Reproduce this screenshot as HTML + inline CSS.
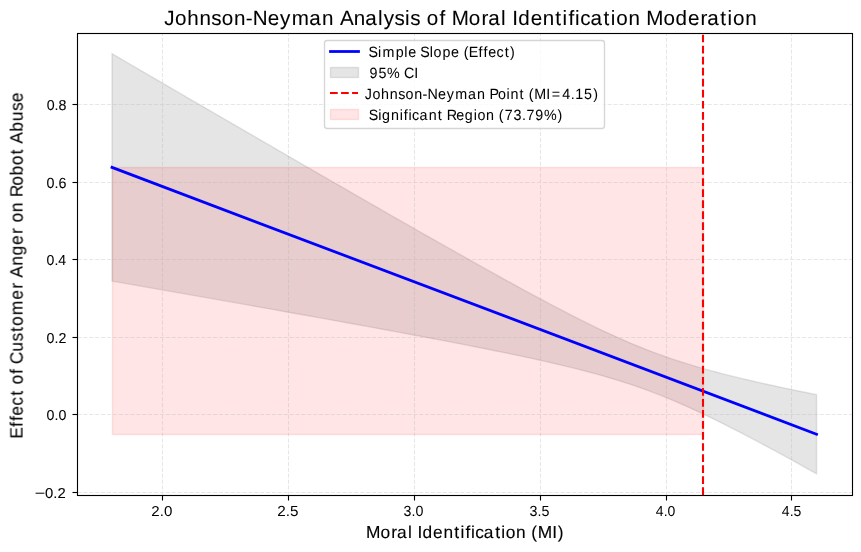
<!DOCTYPE html>
<html lang="en"><head><meta charset="utf-8"><title>Johnson-Neyman Analysis</title>
<style>html,body{margin:0;padding:0;background:#fff;}body{width:861px;height:552px;overflow:hidden;font-family:"Liberation Sans",sans-serif;}</style>
</head><body>
<svg width="861" height="552" viewBox="0 0 861 552" style="display:block;font-family:'Liberation Sans',sans-serif;text-rendering:geometricPrecision">
<rect x="0" y="0" width="861" height="552" fill="#ffffff"/>
<path d="M112.01 53.72 L119.12 57.87 L126.24 62.01 L133.35 66.16 L140.47 70.3 L147.59 74.44 L154.7 78.58 L161.82 82.72 L168.94 86.86 L176.05 91 L183.17 95.14 L190.29 99.28 L197.4 103.42 L204.52 107.55 L211.64 111.69 L218.75 115.82 L225.87 119.95 L232.99 124.08 L240.1 128.21 L247.22 132.34 L254.34 136.47 L261.45 140.59 L268.57 144.72 L275.69 148.84 L282.8 152.96 L289.92 157.08 L297.04 161.2 L304.15 165.31 L311.27 169.43 L318.39 173.54 L325.5 177.65 L332.62 181.75 L339.74 185.86 L346.85 189.96 L353.97 194.05 L361.09 198.15 L368.2 202.24 L375.32 206.33 L382.44 210.41 L389.55 214.49 L396.67 218.56 L403.79 222.63 L410.9 226.7 L418.02 230.76 L425.14 234.81 L432.25 238.86 L439.37 242.9 L446.49 246.93 L453.6 250.95 L460.72 254.96 L467.84 258.97 L474.95 262.96 L482.07 266.94 L489.19 270.91 L496.3 274.86 L503.42 278.8 L510.54 282.72 L517.65 286.62 L524.77 290.5 L531.89 294.35 L539 298.18 L546.12 301.98 L553.24 305.74 L560.35 309.47 L567.47 313.16 L574.59 316.8 L581.7 320.39 L588.82 323.92 L595.94 327.38 L603.05 330.78 L610.17 334.1 L617.29 337.34 L624.4 340.49 L631.52 343.54 L638.64 346.49 L645.75 349.34 L652.87 352.08 L659.98 354.71 L667.1 357.24 L674.22 359.66 L681.33 361.98 L688.45 364.21 L695.57 366.34 L702.68 368.4 L709.8 370.38 L716.92 372.29 L724.03 374.14 L731.15 375.93 L738.27 377.67 L745.38 379.37 L752.5 381.03 L759.62 382.65 L766.73 384.23 L773.85 385.79 L780.97 387.32 L788.08 388.83 L795.2 390.32 L802.32 391.78 L809.43 393.23 L816.55 394.67 L816.55 473.72 L809.43 469.77 L802.32 465.83 L795.2 461.9 L788.08 458 L780.97 454.12 L773.85 450.26 L766.73 446.43 L759.62 442.62 L752.5 438.85 L745.38 435.12 L738.27 431.43 L731.15 427.78 L724.03 424.18 L716.92 420.64 L709.8 417.16 L702.68 413.75 L695.57 410.42 L688.45 407.17 L681.33 404 L674.22 400.93 L667.1 397.97 L659.98 395.1 L652.87 392.34 L645.75 389.69 L638.64 387.15 L631.52 384.71 L624.4 382.38 L617.29 380.13 L610.17 377.98 L603.05 375.91 L595.94 373.92 L588.82 372 L581.7 370.14 L574.59 368.34 L567.47 366.59 L560.35 364.89 L553.24 363.22 L546.12 361.6 L539 360.01 L531.89 358.44 L524.77 356.91 L517.65 355.4 L510.54 353.91 L503.42 352.44 L496.3 350.99 L489.19 349.55 L482.07 348.13 L474.95 346.72 L467.84 345.32 L460.72 343.94 L453.6 342.56 L446.49 341.19 L439.37 339.83 L432.25 338.48 L425.14 337.14 L418.02 335.8 L410.9 334.47 L403.79 333.15 L396.67 331.83 L389.55 330.51 L382.44 329.2 L375.32 327.9 L368.2 326.59 L361.09 325.3 L353.97 324 L346.85 322.71 L339.74 321.42 L332.62 320.13 L325.5 318.85 L318.39 317.57 L311.27 316.29 L304.15 315.01 L297.04 313.74 L289.92 312.47 L282.8 311.2 L275.69 309.93 L268.57 308.66 L261.45 307.39 L254.34 306.13 L247.22 304.87 L240.1 303.61 L232.99 302.35 L225.87 301.09 L218.75 299.83 L211.64 298.57 L204.52 297.32 L197.4 296.06 L190.29 294.81 L183.17 293.56 L176.05 292.31 L168.94 291.06 L161.82 289.81 L154.7 288.56 L147.59 287.31 L140.47 286.06 L133.35 284.82 L126.24 283.57 L119.12 282.32 L112.01 281.08Z" fill="#7d7d7d" fill-opacity="0.2" stroke="#7d7d7d" stroke-opacity="0.2" stroke-width="1.39" stroke-linejoin="miter"/>
<rect x="112.5" y="167.5" width="591" height="267" fill="#ff0000" fill-opacity="0.1" stroke="#ff0000" stroke-opacity="0.1" stroke-width="1.39"/>
<path d="M162.5 495.5V33.5M288.5 495.5V33.5M414.5 495.5V33.5M540.5 495.5V33.5M666.5 495.5V33.5M791.5 495.5V33.5M77.5 492.5H852.5M77.5 414.5H852.5M77.5 337.5H852.5M77.5 259.5H852.5M77.5 182.5H852.5M77.5 104.5H852.5" fill="none" stroke="#b0b0b0" stroke-opacity="0.3" stroke-width="1.11" stroke-dasharray="4.11 1.78"/>
<path d="M162.5 495.5v5M288.5 495.5v5M414.5 495.5v5M540.5 495.5v5M666.5 495.5v5M791.5 495.5v5" fill="none" stroke="#000" stroke-width="1.11"/>
<rect x="72.5" y="491.94" width="5" height="1.11" fill="#000"/>
<rect x="72.5" y="413.94" width="5" height="1.11" fill="#000"/>
<rect x="72.5" y="336.94" width="5" height="1.11" fill="#000"/>
<rect x="72.5" y="258.94" width="5" height="1.11" fill="#000"/>
<rect x="72.5" y="181.94" width="5" height="1.11" fill="#000"/>
<rect x="72.5" y="103.94" width="5" height="1.11" fill="#000"/>
<path d="M112.01 167.4L816.55 434.19" fill="none" stroke="#0000ff" stroke-width="2.78" stroke-linecap="square"/>
<path d="M703 495V33" fill="none" stroke="#ff0000" stroke-width="2.08" stroke-dasharray="7.71 3.33"/>
<rect x="77.5" y="33.5" width="775.0" height="462.0" fill="none" stroke="#000" stroke-width="1.11"/>
<rect x="324.5" y="40.5" width="280" height="88" rx="2.78" fill="#ffffff" fill-opacity="0.8" stroke="#cccccc" stroke-opacity="0.8" stroke-width="1.39"/>
<path d="M330.5 51.5H358.5" fill="none" stroke="#0000ff" stroke-width="2.78" stroke-linecap="square"/>
<rect x="330.5" y="67.5" width="28" height="10" fill="#7d7d7d" fill-opacity="0.2" stroke="#7d7d7d" stroke-opacity="0.2" stroke-width="1.39"/>
<path d="M330 93H358" fill="none" stroke="#ff0000" stroke-width="2.08" stroke-dasharray="7.71 3.33"/>
<rect x="330.5" y="109.5" width="28" height="10" fill="#ff0000" fill-opacity="0.1" stroke="#ff0000" stroke-opacity="0.1" stroke-width="1.39"/>
<g id="labels" opacity="0.999">
<text transform="translate(0 24.70) scale(1.0600 1.0600)" font-size="19.444" fill="#000" stroke="#000" stroke-width="0.08" x="154.94 165.18 176.64 188.22 199.4 209.16 220.65 231.86 238.36 252.52 264.05 275.27 291.66 303.78 314.8 320.67 333.85 344.49 356.55 361.93 372.27 382.16 387.01 396.4 402.68 414.55 420.22 426.11 442.3 454.2 460.53 472.59 477.3 483.21 488.97 500.63 512.04 523.94 530.74 536.36 542.53 547.39 556.99 569.46 576.26 581.33 592.82 603.83 609.72 625.91 637.32 648.98 660.81 667.13 679.6 686.4 691.48 702.96">Johnson-Neyman Analysis of Moral Identification Moderation</text>
<text transform="translate(0 537.67) scale(1.0400 1.0400)" font-size="16.667" fill="#000" stroke="#000" stroke-width="0.12" x="351.82 365.95 376.32 381.69 392.28 396.33 401.37 406.28 416.38 426.4 436.88 442.77 447.51 452.86 456.86 465.23 476.18 482.07 486.26 496.23 505.95 510.82 516.96 530.93 536.35">Moral Identification (MI)</text>
<text transform="translate(22.75 0) rotate(-90) scale(1.0400 1.0750)" font-size="16.667" fill="#000" stroke="#000" stroke-width="0.1" x="-421.75 -410.36 -404.72 -399.54 -389.96 -380.37 -374.88 -369.69 -359.4 -354.45 -350.11 -338.07 -328.22 -319.07 -313.44 -303.06 -288 -277.59 -271.75 -266.91 -255.4 -245.46 -235.36 -224.94 -219.11 -213.92 -203.95 -194.23 -189.49 -178.58 -168.56 -158.75 -148.4 -142.91 -138.06 -126.49 -116.56 -106.7 -98.1">Effect of Customer Anger on Robot Abuse</text>
<text transform="translate(0 56.52) scale(1.0300 1.0700)" font-size="13.889" fill="#000" stroke="#000" stroke-width="0.04" x="357.89 367.07 371.29 384.11 392.56 396.3 404.25 408.13 417.32 420.98 429.5 437.93 445.87 450.13 455.01 464.63 469.49 473.97 481.95 489.99 495.27">Simple Slope (Effect)</text>
<text transform="translate(0 77.50) scale(1.0300 1.0700)" font-size="13.889" fill="#000" stroke="#000" stroke-width="0.04" x="358.85 367.42 375.75 388.35 392.18 402.12">95% CI</text>
<text transform="translate(0 98.52) scale(1.0300 1.0700)" font-size="13.889" fill="#000" stroke="#000" stroke-width="0.04" x="354.16 361.57 369.99 378.5 386.6 393.74 402.16 410.29 414.96 425.36 433.82 442.1 454.25 463.21 471.3 475.16 483.42 491.77 495.61 504.37 509.04 513.29 518.62 530.34 535.72 545.85 554.12 558.54 567.11 575.91">Johnson-Neyman Point (MI=4.15)</text>
<text transform="translate(0 119.52) scale(1.0300 1.0700)" font-size="13.889" fill="#000" stroke="#000" stroke-width="0.04" x="357.95 367.13 370.89 379.59 388.01 392.12 396.62 400.09 407.28 416.24 425 429.67 433.77 442.96 451.23 459.85 463.52 471.94 480.04 484.29 489.97 498.51 506.79 511.21 519.71 528.12 541.33">Significant Region (73.79%)</text>
<text transform="translate(0 515.50) scale(1 1.0410)" font-size="13.889" fill="#000"><tspan x="151.37" textLength="21.01" lengthAdjust="spacingAndGlyphs">2.0</tspan></text>
<text transform="translate(0 515.50) scale(1 1.0560)" font-size="13.889" fill="#000"><tspan x="277.37" textLength="21.22" lengthAdjust="spacingAndGlyphs">2.5</tspan></text>
<text transform="translate(0 515.50) scale(1 1.0560)" font-size="13.889" fill="#000"><tspan x="403.63" textLength="19.76" lengthAdjust="spacingAndGlyphs">3.0</tspan></text>
<text transform="translate(0 515.50) scale(1 1.0560)" font-size="13.889" fill="#000"><tspan x="529.63" textLength="19.87" lengthAdjust="spacingAndGlyphs">3.5</tspan></text>
<text transform="translate(0 515.50) scale(1 1.0410)" font-size="13.889" fill="#000"><tspan x="655.89" textLength="19.48" lengthAdjust="spacingAndGlyphs">4.0</tspan></text>
<text transform="translate(0 515.50) scale(1 1.0560)" font-size="13.889" fill="#000"><tspan x="781.89" textLength="19.52" lengthAdjust="spacingAndGlyphs">4.5</tspan></text>
<text transform="translate(0 497.50) scale(1 1.0410)" font-size="13.889" fill="#000" stroke="#000" stroke-width="0.08"><tspan x="34.67" textLength="10.44" lengthAdjust="spacingAndGlyphs">−</tspan><tspan x="45.07" textLength="20.65" lengthAdjust="spacingAndGlyphs">0.2</tspan></text>
<text transform="translate(0 419.50) scale(1 1.0410)" font-size="13.889" fill="#000" stroke="#000" stroke-width="0.08"><tspan x="46.63" textLength="19.76" lengthAdjust="spacingAndGlyphs">0.0</tspan></text>
<text transform="translate(0 342.50) scale(1 1.0410)" font-size="13.889" fill="#000" stroke="#000" stroke-width="0.08"><tspan x="46.62" textLength="19.83" lengthAdjust="spacingAndGlyphs">0.2</tspan></text>
<text transform="translate(0 264.50) scale(1 1.0410)" font-size="13.889" fill="#000" stroke="#000" stroke-width="0.08"><tspan x="46.63" textLength="19.54" lengthAdjust="spacingAndGlyphs">0.4</tspan></text>
<text transform="translate(0 187.50) scale(1 1.0560)" font-size="13.889" fill="#000" stroke="#000" stroke-width="0.08"><tspan x="46.63" textLength="19.85" lengthAdjust="spacingAndGlyphs">0.6</tspan></text>
<text transform="translate(0 109.50) scale(1 1.0410)" font-size="13.889" fill="#000" stroke="#000" stroke-width="0.08"><tspan x="46.68" textLength="19.77" lengthAdjust="spacingAndGlyphs">0.8</tspan></text>
</g>
</svg>
</body></html>
